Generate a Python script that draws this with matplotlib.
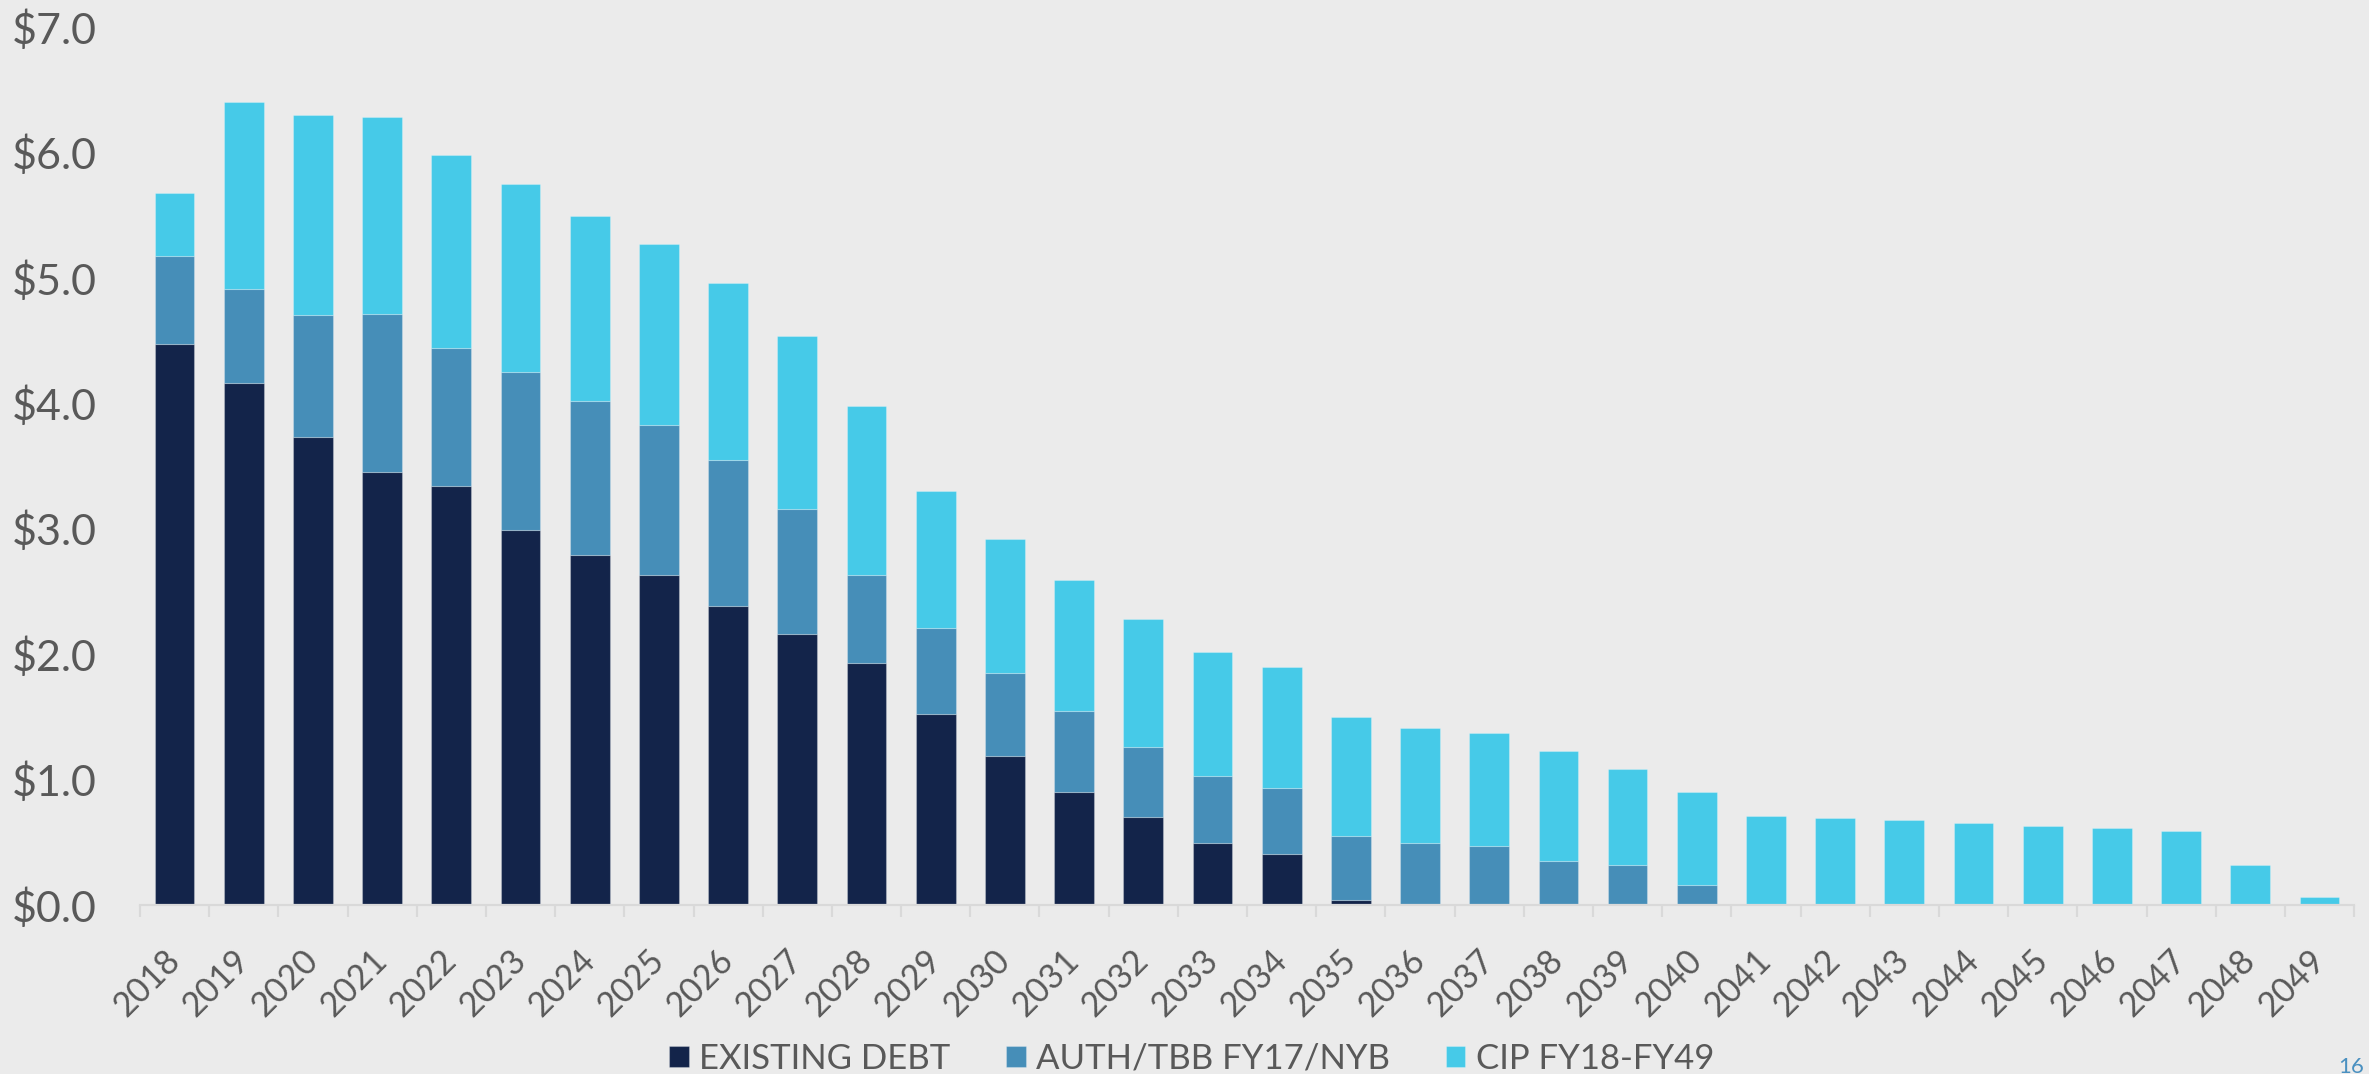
import matplotlib
matplotlib.use("Agg")
import matplotlib.pyplot as plt
import numpy as np

# values in $ billions
years = [str(y) for y in range(2018, 2050)]
existing_debt = [4.47, 4.16, 3.73, 3.45, 3.34, 2.99, 2.79, 2.63, 2.38, 2.16,
                 1.93, 1.52, 1.19, 0.90, 0.70, 0.49, 0.41, 0.04,
                 0, 0, 0, 0, 0, 0, 0, 0, 0, 0, 0, 0, 0, 0]
auth_tbb = [0.70, 0.75, 0.97, 1.26, 1.10, 1.26, 1.23, 1.20, 1.17, 1.00,
            0.70, 0.69, 0.66, 0.65, 0.56, 0.54, 0.52, 0.51, 0.49, 0.47,
            0.35, 0.32, 0.16, 0, 0, 0, 0, 0, 0, 0, 0, 0]
cip = [0.51, 1.49, 1.60, 1.57, 1.54, 1.50, 1.47, 1.44, 1.41, 1.38,
       1.35, 1.09, 1.07, 1.04, 1.02, 0.99, 0.97, 0.95, 0.92, 0.90,
       0.88, 0.76, 0.74, 0.71, 0.69, 0.675, 0.653, 0.632, 0.61, 0.59,
       0.32, 0.06]
series_names = ["EXISTING DEBT", "AUTH/TBB FY17/NYB", "CIP FY18-FY49"]
colors = ["#13244a", "#468eb8", "#46cae8"]
y_ticks = [0, 1, 2, 3, 4, 5, 6, 7]

bg = "#ebebeb"
grey = "#595959"
plt.rcParams['font.family'] = ['Lato', 'DejaVu Sans']

fig = plt.figure(figsize=(23.69, 10.74), dpi=100, facecolor=bg)
ax = fig.add_axes([0.0591, 0.1574, 0.9346, 0.8175])
ax.set_facecolor(bg)

x = np.arange(len(years))
bottom = np.zeros(len(years))
for vals, name, col in zip([existing_debt, auth_tbb, cip], series_names, colors):
    vals = np.array(vals, dtype=float)
    ax.bar(x, vals, width=0.575, bottom=bottom, color=col, label=name,
           edgecolor=(1, 1, 1, 0.25), linewidth=0.8)
    bottom += vals

ax.set_xlim(-0.5, len(years) - 0.5)
ax.set_ylim(0, 7)
ax.set_yticks(y_ticks)
ax.set_yticklabels([f"${v:.1f}" for v in y_ticks])
ax.tick_params(axis='y', length=0, pad=31, labelsize=31, labelcolor=grey)

ax.set_xticks(x)
ax.set_xticklabels(years, rotation=45, ha='right', va='center',
                   rotation_mode='anchor')
ax.tick_params(axis='x', which='major', length=0, pad=36, labelsize=24.5,
               labelcolor=grey)
ax.set_xticks(np.arange(-0.5, len(years)), minor=True)
ax.tick_params(axis='x', which='minor', length=8.6, width=1.6,
               color='#d9d9d9', direction='out')

for side in ['left', 'right', 'top']:
    ax.spines[side].set_visible(False)
ax.spines['bottom'].set_color('#d9d9d9')
ax.spines['bottom'].set_linewidth(1.6)

fig.legend(loc='center', bbox_to_anchor=(0.503, 0.014), ncol=3, frameon=False,
           fontsize=25, labelcolor=grey, handlelength=0.57, handleheight=0.57,
           handletextpad=0.3, columnspacing=1.6, borderaxespad=0)

fig.text(0.998, 0.016, "16", color="#4a90c0", fontsize=16, ha='right', va='top')

fig.savefig("out.png", dpi=100, facecolor=bg)
